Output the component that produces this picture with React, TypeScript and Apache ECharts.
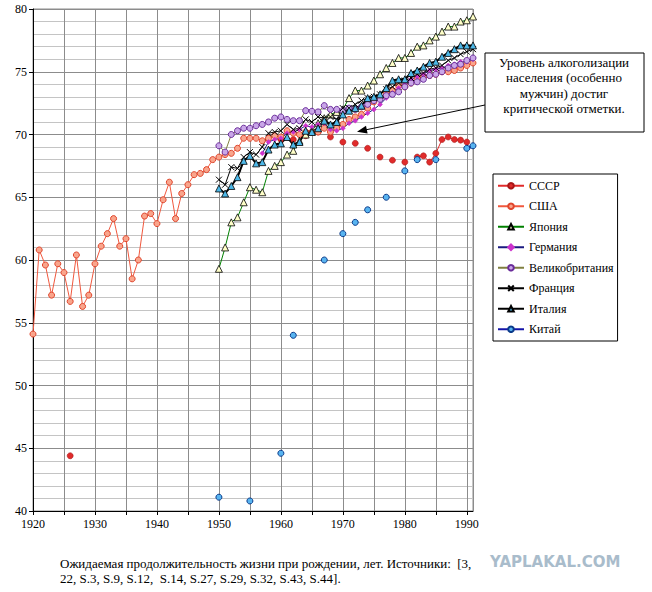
import { useEffect, useRef } from 'react';
import * as echarts from 'echarts';

// years helper for contiguous yearly series
const span = (from: number, to: number) => Array.from({ length: to - from + 1 }, (_, i) => from + i);

const ussrYears = [1926, 1960, 1962, 1964, 1966, 1968, 1970, 1972, 1974, 1976, 1978, 1980, 1982, 1983, 1984, 1985, 1986, 1987, 1988, 1989, 1990];
const ussrValues = [44.4, 69.6, 69.6, 69.9, 70.2, 69.8, 69.4, 69.3, 68.9, 68.2, 67.95, 67.8, 68.2, 68.3, 67.8, 68.5, 69.6, 69.8, 69.6, 69.55, 69.4];

const usaYears = span(1920, 1991);
const usaValues = [
  54.1, 60.8, 59.6, 57.2, 59.7, 59.0, 56.7, 60.4, 56.3, 57.2,
  59.7, 61.1, 62.1, 63.3, 61.1, 61.7, 58.5, 60.0, 63.5, 63.7,
  62.9, 64.8, 66.2, 63.3, 65.3, 66.0, 66.8, 66.9, 67.2, 68.0,
  68.2, 68.4, 68.5, 68.9, 69.7, 69.7, 69.7, 69.5, 69.7, 69.9,
  69.8, 70.3, 70.1, 70.0, 70.2, 70.2, 70.2, 70.5, 70.2, 70.5,
  70.8, 71.2, 71.4, 71.6, 72.1, 72.6, 72.9, 73.3, 73.5, 73.9,
  73.8, 74.1, 74.5, 74.6, 74.7, 74.8, 75.0, 75.0, 75.1, 75.3,
  75.5, 75.7,
];

const japanYears = span(1950, 1991);
const japanValues = [
  59.3, 61.0, 63.0, 63.4, 64.6, 65.8, 65.6, 65.4, 67.1, 67.5,
  67.8, 68.4, 68.7, 69.5, 70.0, 70.3, 70.9, 71.3, 71.6, 71.8,
  72.0, 72.9, 73.5, 73.5, 73.9, 74.3, 74.8, 75.3, 75.7, 76.1,
  76.1, 76.5, 77.0, 77.1, 77.5, 77.8, 78.2, 78.6, 78.6, 79.0,
  79.1, 79.4,
];

const germanyYears = span(1957, 1991);
const germanyValues = [
  68.5, 69.4, 69.6,
  69.7, 70.1, 70.2, 70.4, 70.7, 70.6, 70.8, 70.9, 70.4, 70.3,
  70.5, 70.9, 71.1, 71.4, 71.7, 72.0, 72.4, 72.9, 73.3, 73.7,
  74.1, 74.4, 74.6, 74.8, 75.1, 75.2, 75.3, 75.5, 75.6, 75.8,
  75.8, 76.0,
];

const ukYears = span(1950, 1991);
const ukValues = [
  69.1, 68.6, 70.0, 70.3, 70.5, 70.5, 70.7, 70.8, 71.0, 71.3,
  71.4, 71.2, 71.1, 71.1, 71.9, 71.85, 71.8, 72.3, 72.0, 72.0,
  71.9, 72.1, 72.0, 72.2, 72.4, 72.7, 72.8, 73.1, 73.2, 73.4,
  73.8, 74.1, 74.2, 74.4, 74.7, 74.8, 75.0, 75.3, 75.5, 75.6,
  75.9, 76.1,
];

const franceYears = span(1950, 1991);
const franceValues = [
  66.4, 66.0, 67.4, 67.3, 68.2, 68.6, 68.4, 69.0, 70.1, 70.2,
  70.3, 70.8, 70.4, 70.5, 71.2, 71.0, 71.4, 71.3, 71.4, 71.2,
  72.1, 72.1, 72.4, 72.7, 72.9, 73.0, 73.2, 73.6, 73.8, 74.1,
  74.3, 74.5, 74.8, 74.9, 75.2, 75.3, 75.5, 75.9, 76.1, 76.4,
  76.6, 76.8,
];

const italyYears = span(1950, 1991);
const italyValues = [
  65.7, 65.3, 65.9, 66.6, 67.9, 68.3, 67.7, 67.8, 68.8, 69.2,
  69.3, 69.8, 69.2, 69.4, 70.3, 70.2, 70.5, 71.1, 70.8, 71.0,
  71.6, 71.9, 72.1, 72.3, 72.9, 73.0, 73.2, 73.7, 74.3, 74.4,
  74.4, 74.9, 75.1, 75.4, 75.7, 75.8, 76.2, 76.5, 76.8, 77.1,
  77.1, 77.1,
];

const chinaYears = [1950, 1955, 1960, 1962, 1967, 1970, 1972, 1974, 1977, 1980, 1982, 1985, 1990, 1991];
const chinaValues = [41.1, 40.8, 44.6, 54.0, 60.0, 62.1, 63.0, 64.0, 65.0, 67.1, 68.0, 68.0, 68.9, 69.1];

const noteLines = ['Уровень алкоголизации', 'населения (особенно', 'мужчин) достиг', 'критической отметки.'];
const captionLines = [
  'Ожидаемая продолжительность жизни при рождении, лет. Источники:  [3,',
  '22, S.3, S.9, S.12,  S.14, S.27, S.29, S.32, S.43, S.44].',
];

// break the line where a year is missing (as Excel does)
function pairs(years: number[], values: number[]) {
  const out: any[] = [];
  years.forEach((y, i) => {
    if (i > 0 && y - years[i - 1] > 1) out.push([years[i - 1] + 1, '-']);
    out.push([y, values[i]]);
  });
  return out;
}

const SERIF = 'Liberation Serif';

function mkSeries(name: string, years: number[], values: number[], symbol: string, size: number, item: any, line: any) {
  return {
    name,
    type: 'line',
    data: pairs(years, values),
    symbol,
    symbolSize: size,
    showSymbol: true,
    showAllSymbol: true,
    connectNulls: false,
    itemStyle: item,
    lineStyle: line,
    emphasis: { disabled: true },
  };
}

export default function App() {
  const chartRef = useRef<HTMLDivElement>(null);

  useEffect(() => {
    document.body.style.margin = '0';
    if (!chartRef.current) return;
    const chart = echarts.init(chartRef.current, null, { renderer: 'svg' });

    const option: any = {
      animation: false,
      backgroundColor: '#fff',
      textStyle: { fontFamily: SERIF },
      grid: {
        left: 33,
        right: 179,
        top: 9,
        bottom: 81,
        show: true,
        borderColor: '#8c8c8c',
        borderWidth: 1,
      },
      legend: {
        orient: 'vertical',
        left: 493,
        top: 174,
        itemWidth: 26,
        itemHeight: 7,
        itemGap: 7,
        padding: [5, 4, 5, 4],
        backgroundColor: '#fff',
        borderColor: '#000',
        borderWidth: 1,
        borderRadius: 0,
        textStyle: { fontFamily: SERIF, fontSize: 12, color: '#000', lineHeight: 13.5 },
        selectedMode: false,
      },
      xAxis: {
        type: 'value',
        min: 1920,
        max: 1991,
        interval: 5,
        axisLine: { lineStyle: { color: '#000', width: 1 } },
        axisTick: { show: true, length: 4, lineStyle: { color: '#000' } },
        axisLabel: {
          formatter: (v: number) => (v % 10 === 0 ? String(v) : ''),
          fontFamily: SERIF,
          fontSize: 12,
          color: '#000',
          margin: 7,
          showMaxLabel: false,
        },
        splitLine: { show: true, lineStyle: { color: '#8c8c8c', width: 1 } },
      },
      yAxis: {
        type: 'value',
        min: 40,
        max: 80,
        interval: 5,
        axisLine: { show: true, lineStyle: { color: '#000', width: 1 } },
        axisTick: { show: true, length: 4, lineStyle: { color: '#000' } },
        axisLabel: { fontFamily: SERIF, fontSize: 12, color: '#000', margin: 6 },
        splitLine: { show: true, lineStyle: { color: '#8c8c8c', width: 1 } },
        minorTick: { show: false, splitNumber: 5 },
        minorSplitLine: { show: true, lineStyle: { color: '#c4c4c4', width: 1 } },
      },
      series: [
        mkSeries('СССР', ussrYears, ussrValues, 'circle', 6,
          { color: '#e02b2b', borderColor: '#a81515', borderWidth: 0.6 },
          { color: '#e02b2b', width: 1 }),
        mkSeries('США', usaYears, usaValues, 'circle', 6,
          { color: '#f9a58c', borderColor: '#e0452c', borderWidth: 1 },
          { color: '#f0583e', width: 1 }),
        mkSeries('Япония', japanYears, japanValues, 'triangle', 7,
          { color: '#ffffc8', borderColor: '#000', borderWidth: 0.8 },
          { color: '#008000', width: 1 }),
        mkSeries('Германия', germanyYears, germanyValues, 'diamond', 5,
          { color: '#cc33cc', borderColor: '#cc33cc', borderWidth: 0.5 },
          { color: '#1a1a80', width: 1 }),
        mkSeries('Великобритания', ukYears, ukValues, 'circle', 6,
          { color: '#c9a6e8', borderColor: '#6a2c9a', borderWidth: 1 },
          { color: '#808040', width: 1 }),
        mkSeries('Франция', franceYears, franceValues, 'path://M0,0L10,10M10,0L0,10', 6,
          { color: 'none', borderColor: '#000', borderWidth: 1 },
          { color: '#000', width: 1 }),
        mkSeries('Италия', italyYears, italyValues, 'triangle', 7,
          { color: '#4db8e8', borderColor: '#000', borderWidth: 0.8 },
          { color: '#000', width: 2 }),
        mkSeries('Китай', chinaYears, chinaValues, 'circle', 6,
          { color: '#58b4f0', borderColor: '#0a3a8a', borderWidth: 1 },
          { color: '#1414a8', width: 3 }),
      ],
      graphic: [
        {
          type: 'rect',
          z: 100,
          shape: { x: 485, y: 53, width: 159, height: 79 },
          style: { fill: '#fff', stroke: '#000', lineWidth: 1 },
        },
        {
          type: 'text',
          z: 101,
          x: 564,
          y: 55,
          style: {
            text: noteLines.join('\n'),
            fontFamily: SERIF,
            fontSize: 13,
            fill: '#000',
            align: 'center',
            verticalAlign: 'top',
            lineHeight: 15.3,
          },
        },
        {
          type: 'line',
          z: 100,
          shape: { x1: 485, y1: 105, x2: 366, y2: 129.8 },
          style: { stroke: '#000', lineWidth: 1 },
        },
        {
          type: 'polygon',
          z: 100,
          shape: { points: [[357, 131.7], [367.6, 133.6], [366.0, 125.8]] },
          style: { fill: '#000' },
        },
        {
          type: 'text',
          x: 60,
          y: 555.5,
          style: {
            text: captionLines.join('\n'),
            fontFamily: SERIF,
            fontSize: 13,
            fill: '#000',
            lineHeight: 15,
            verticalAlign: 'top',
          },
        },
        {
          type: 'text',
          x: 490,
          y: 562,
          style: {
            text: 'YAPLAKAL.COM',
            fontFamily: 'DejaVu Sans',
            fontWeight: 'bold',
            fontSize: 15,
            fill: '#a9bccb',
            verticalAlign: 'middle',
          },
        },
      ],
    };

    chart.setOption(option);
    return () => chart.dispose();
  }, []);

  return <div ref={chartRef} style={{ width: 652, height: 592 }} />;
}
